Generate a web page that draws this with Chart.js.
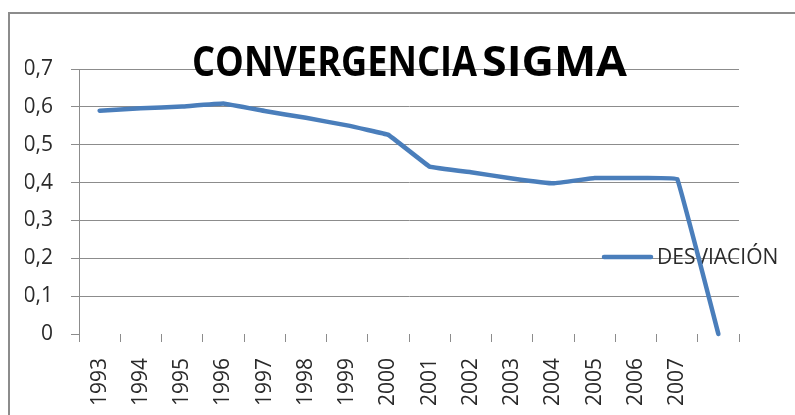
<!DOCTYPE html>
<html>
<head>
<meta charset="utf-8">
<script src="https://cdn.jsdelivr.net/npm/chart.js@4"></script>
<style>
  html, body { margin: 0; padding: 0; background: #fff; }
  #wrap { position: relative; width: 795px; height: 415px; }
  canvas { display: block; }
</style>
</head>
<body>
<div id="wrap"><canvas id="c" width="795" height="415"></canvas></div>
<script>
const titleWords = ['CONVERGENCIA', 'SIGMA'];
const seriesName = 'DESVIACIÓN';
const years = ['1993','1994','1995','1996','1997','1998','1999','2000','2001','2002','2003','2004','2005','2006','2007',''];
const desviacion = [0.590,0.596,0.601,0.609,0.589,0.571,0.551,0.526,0.442,0.427,0.411,0.398,0.412,0.412,0.410,0];
const yTicks = [0,0.1,0.2,0.3,0.4,0.5,0.6,0.7];

const lineColor = '#4a7ebb';
const gridColor = '#8c8c8c';
const textColor = '#2a2a2a';
const FONT = '"Open Sans", "DejaVu Sans", sans-serif';

function fitText(ctx, text, x0, x1, y) {
  const w = ctx.measureText(text).width;
  ctx.save();
  ctx.translate(x0, y);
  ctx.scale((x1 - x0) / w, 1);
  ctx.fillText(text, 0, 0);
  ctx.restore();
}

const decorPlugin = {
  id: 'decor',
  beforeDraw(chart) {
    const ctx = chart.ctx;
    ctx.save();
    ctx.fillStyle = '#fff';
    ctx.fillRect(0, 0, chart.width, chart.height);
    ctx.strokeStyle = '#8c8c8c';
    ctx.lineWidth = 2;
    ctx.strokeRect(9, 13, 900, 600);
    ctx.restore();
  },
  beforeDatasetsDraw(chart) {
    const ctx = chart.ctx;
    ctx.save();
    const ds = chart.data.datasets[0];
    const ly = 257;
    ctx.strokeStyle = ds.borderColor;
    ctx.lineWidth = 4.5;
    ctx.lineCap = 'round';
    ctx.beginPath();
    ctx.moveTo(604, ly);
    ctx.lineTo(651, ly);
    ctx.stroke();
    ctx.font = '21px ' + FONT;
    ctx.fillStyle = textColor;
    ctx.textBaseline = 'middle';
    ctx.textAlign = 'left';
    ctx.fillText(ds.label, 657, ly + 1);
    ctx.restore();
  },
  afterDraw(chart) {
    const ctx = chart.ctx;
    ctx.save();
    ctx.font = 'bold 42px ' + FONT;
    ctx.fillStyle = '#000';
    ctx.textBaseline = 'alphabetic';
    ctx.textAlign = 'left';
    fitText(ctx, titleWords[0], 192, 477, 76);
    fitText(ctx, titleWords[1], 482, 627, 76);
    ctx.restore();
  }
};

new Chart(document.getElementById('c'), {
  type: 'line',
  data: {
    labels: years,
    datasets: [{
      label: seriesName,
      data: desviacion,
      borderColor: lineColor,
      backgroundColor: lineColor,
      borderWidth: 4.5,
      borderJoinStyle: 'round',
      borderCapStyle: 'round',
      pointRadius: 0,
      pointHoverRadius: 0,
      tension: 0.04,
      fill: false,
      clip: false
    }]
  },
  options: {
    responsive: false,
    animation: false,
    events: [],
    layout: { padding: { left: 25, right: 56, top: 69, bottom: 8 } },
    plugins: {
      legend: { display: false },
      title: { display: false },
      tooltip: { enabled: false }
    },
    scales: {
      x: {
        type: 'category',
        offset: true,
        afterFit(axis) { axis.height = 73; axis.paddingLeft = 0; axis.paddingRight = 0; },
        grid: {
          offset: true,
          drawOnChartArea: false,
          drawTicks: true,
          tickLength: 8,
          color: gridColor,
          lineWidth: 1
        },
        border: { display: false },
        ticks: {
          autoSkip: false,
          minRotation: 90,
          maxRotation: 90,
          padding: 16,
          color: textColor,
          font: { family: FONT, size: 21 }
        }
      },
      y: {
        min: 0,
        max: 0.7,
        afterFit(axis) { axis.width = 54; axis.paddingTop = 0; axis.paddingBottom = 0; },
        afterBuildTicks(axis) { axis.ticks = yTicks.map(v => ({ value: v })); },
        grid: {
          color: (c) => (c.tick && c.tick.value === 0) ? 'rgba(0,0,0,0)' : gridColor,
          lineWidth: 1,
          drawTicks: true,
          tickLength: 8,
          tickColor: gridColor
        },
        border: { display: true, color: gridColor, width: 1 },
        ticks: {
          padding: 18,
          color: textColor,
          font: { family: FONT, size: 21 },
          callback: (v) => v === 0 ? '0' : Number(v).toFixed(1).replace('.', ',')
        }
      }
    }
  },
  plugins: [decorPlugin]
});
</script>
</body>
</html>
